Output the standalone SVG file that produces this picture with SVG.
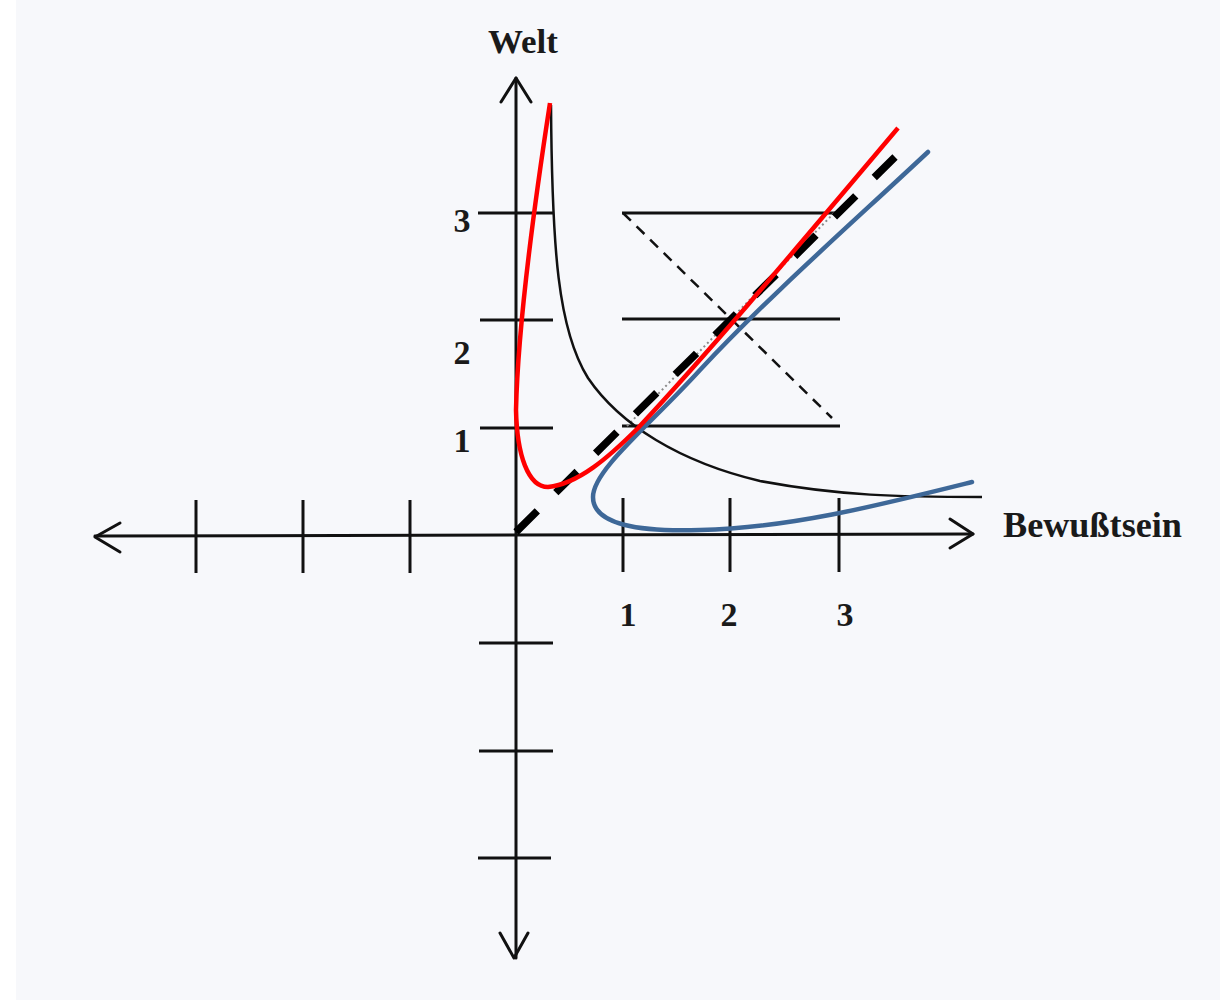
<svg xmlns="http://www.w3.org/2000/svg" width="1220" height="1000" viewBox="0 0 1220 1000">
  <style>
    .ax { stroke: #111; stroke-width: 3; fill: none; stroke-linecap: round; stroke-linejoin: round; }
    .tick { stroke: #111; stroke-width: 3; fill: none; }
    .guide { stroke: #111; stroke-width: 3; fill: none; }
    .thin { stroke: #111; stroke-width: 2.5; fill: none; }
    .lbl { font-family: "Liberation Serif", "Times New Roman", serif; font-weight: bold; fill: #1a1a1a; }
    .num { font-family: "Liberation Serif", "Times New Roman", serif; font-weight: bold; fill: #1a1a1a; font-size: 34px; text-anchor: middle; }
  </style>
  <rect x="0" y="0" width="1220" height="1000" fill="#ffffff"/>
  <rect x="16" y="0" width="1204" height="1000" fill="#f7f8fb"/>

  <g id="axes">
    <line class="ax" x1="516" y1="78" x2="516" y2="958"/>
    <polyline class="ax" points="501,102 516,78 531,102"/>
    <polyline class="ax" points="500,933 514,958 528,933"/>
    <line class="ax" x1="95" y1="536" x2="973" y2="534"/>
    <polyline class="ax" points="120,523 95,537 120,552"/>
    <polyline class="ax" points="950,519 973,534 950,548"/>
  </g>

  <g id="ticks">
    <line class="tick" x1="478" y1="213" x2="553" y2="213"/>
    <line class="tick" x1="480" y1="320" x2="553" y2="320"/>
    <line class="tick" x1="480" y1="428" x2="553" y2="428"/>
    <line class="tick" x1="479" y1="643" x2="553" y2="643"/>
    <line class="tick" x1="479" y1="751" x2="553" y2="751"/>
    <line class="tick" x1="478" y1="858" x2="551" y2="858"/>
    <line class="tick" x1="196" y1="500" x2="196" y2="573"/>
    <line class="tick" x1="303" y1="500" x2="303" y2="573"/>
    <line class="tick" x1="410" y1="500" x2="410" y2="573"/>
    <line class="tick" x1="623" y1="498" x2="623" y2="572"/>
    <line class="tick" x1="730" y1="498" x2="730" y2="572"/>
    <line class="tick" x1="839" y1="498" x2="839" y2="572"/>
  </g>

  <g id="labels">
    <text class="lbl" x="488" y="53" font-size="34" textLength="70" lengthAdjust="spacingAndGlyphs">Welt</text>
    <text class="lbl" x="1003" y="537" font-size="35" textLength="179" lengthAdjust="spacingAndGlyphs">Bewußtsein</text>
    <text class="num" x="462" y="232">3</text>
    <text class="num" x="462" y="364">2</text>
    <text class="num" x="462" y="452">1</text>
    <text class="num" x="628" y="626">1</text>
    <text class="num" x="729" y="626">2</text>
    <text class="num" x="845" y="626">3</text>
  </g>

  <g id="guides">
    <line class="guide" x1="622" y1="213" x2="840" y2="213"/>
    <line class="guide" x1="622" y1="319" x2="840" y2="319"/>
    <line class="guide" x1="622" y1="426" x2="840" y2="426"/>
    <line class="thin" x1="623" y1="213" x2="832" y2="418" stroke-dasharray="11 8"/>
    <line x1="627" y1="426" x2="835" y2="212" stroke="#8a8a8a" stroke-width="2" stroke-dasharray="2 3"/>
  </g>

  <g id="hyperbola">
    <path class="thin" d="M551,105 C552,250 558,330 588,378 C620,425 680,462 760,481 C840,496 900,497 982,497"/>
  </g>

  <g id="connectors">
    <line x1="516" y1="532" x2="895" y2="157" stroke="#000" stroke-width="7.5" stroke-dasharray="30 26"/>
    <path d="M928,152 C850,225 770,295 700,370 C650,425 593,470 593,497 C593,525 640,532 700,530 C790,528 880,505 972,482" fill="none" stroke="#3e6898" stroke-width="4.5" stroke-linecap="round"/>
    <path d="M550,103 C535,200 518,320 516,410 C517,455 528,487 548,487 C578,484 608,458 638,428 C720,340 810,232 898,128" fill="none" stroke="#ff0000" stroke-width="4.5" stroke-linecap="butt"/>
  </g>
</svg>
